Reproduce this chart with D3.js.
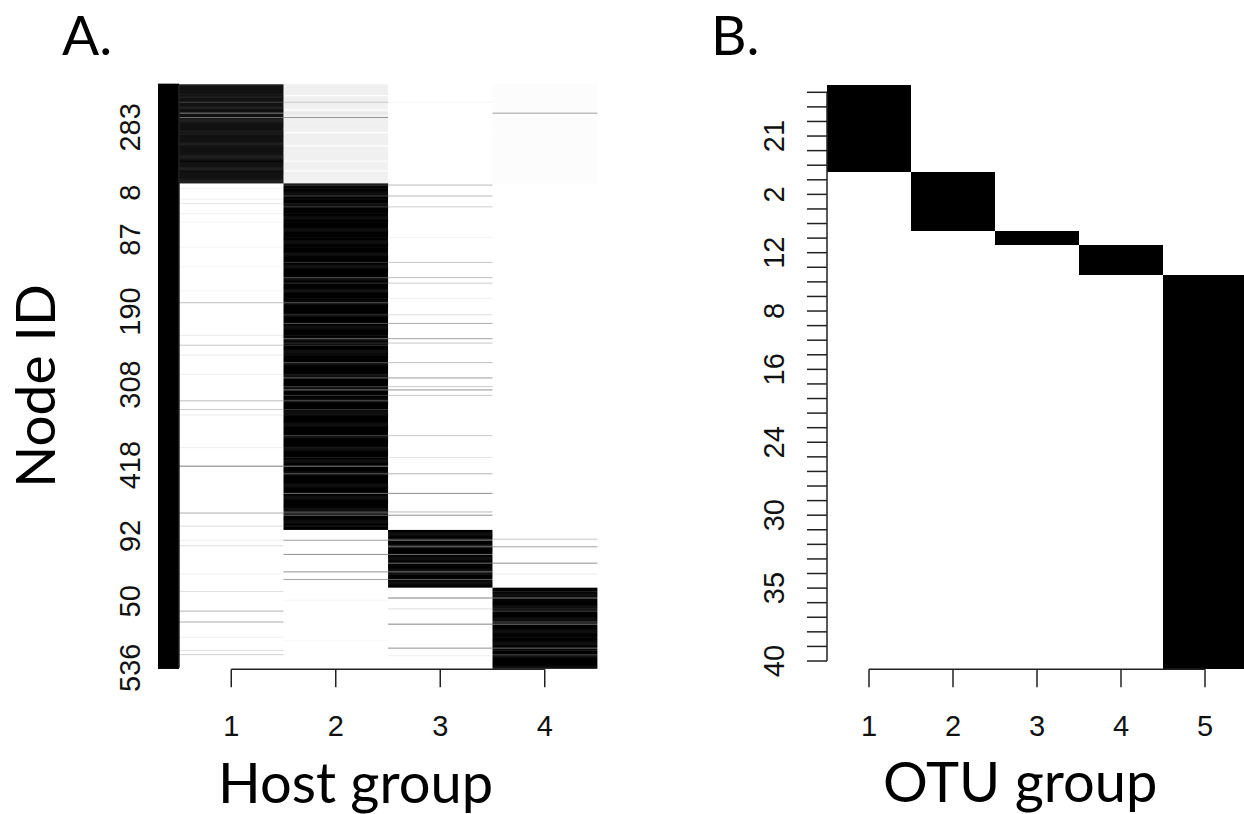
<!DOCTYPE html>
<html><head><meta charset="utf-8">
<script src="https://cdn.jsdelivr.net/npm/d3@7"></script>
<style>body{margin:0;background:#fff}</style>
</head><body>
<svg id="c" width="1244" height="814"></svg>
<script>
// ---------- Panel A data ----------
const hostGroups = [1, 2, 3, 4];
const hostGroupSizes = [91, 318, 53, 74];           // nodes in each host-group block (rows, top to bottom)
const hostBase = [                                   // typical membership of a node in each block
  [0.93, 0.06, 0.00, 0.01],
  [0.00, 1.00, 0.00, 0.00],
  [0.00, 0.00, 1.00, 0.00],
  [0.00, 0.00, 0.00, 1.00]
];
// stripes: [row, host group, membership]
const hostStripes = [
  [10,2,0],[16,2,0.2],[16,3,0.04],[23,2,0],[26,4,0.35],[26,2,0.12],[30,2,0.4],[44,2,0],[56,2,0],[70,2,0],[79,2,0],
  [95,1,0.05],[105,1,0.05],[109,1,0.08],[118,1,0.05],[126,1,0.04],[149,1,0.04],[167,1,0.03],[189,1,0.04],
  [200,1,0.25],[230,1,0.07],[239,1,0.2],[248,1,0.08],[266,1,0.06],[290,1,0.25],[298,1,0.2],[303,1,0.08],
  [333,1,0.06],[350,1,0.47],[393,1,0.3],[405,1,0.12],
  [92,3,0.25],[102,3,0.25],[112,3,0.18],[140,3,0.04],[163,3,0.2],[177,3,0.25],[182,3,0.18],[196,3,0.05],
  [211,3,0.12],[219,3,0.3],[233,3,0.35],[237,3,0.2],[255,3,0.25],[269,3,0.35],[277,3,0.2],[280,3,0.4],
  [285,3,0.2],[322,3,0.2],[342,3,0.1],[357,3,0.28],[375,3,0.4],[392,3,0.25],[395,3,0.4],
  [418,1,0.06],[423,1,0.12],[449,1,0.05],[418,2,0.35],[431,2,0.4],[447,2,0.4],[454,2,0.35],
  [417,4,0.2],[424,4,0.35],[439,4,0.4],[449,4,0.07],
  [465,1,0.12],[483,1,0.28],[493,1,0.3],[507,1,0.06],[519,1,0.12],[523,1,0.18],
  [471,3,0.45],[481,3,0.12],[495,3,0.45],[517,3,0.4],[524,3,0.06],[473,2,0.03],[510,2,0.02]
];
const nodeLabelRows = [39, 99, 142, 208, 275, 349, 414, 474, 535];
const nodeLabels = ["283", "8", "87", "190", "308", "418", "92", "50", "536"];

// ---------- Panel B data ----------
const otuGroups = [1, 2, 3, 4, 5];
const otuGroupSizes = [6, 4, 1, 2, 27];
const otuLabelRows = [3, 7, 11, 15, 19, 24, 29, 34, 39];
const otuLabels = ["21", "2", "12", "8", "16", "24", "30", "35", "40"];

// ---------- build matrices ----------
function buildA() {
  const m = [];
  hostGroupSizes.forEach((n, g) => { for (let i = 0; i < n; i++) m.push({g, v: hostBase[g].slice()}); });
  const touched = new Set();
  hostStripes.forEach(([r, c, v]) => { m[r].v[c - 1] = v; touched.add(r); });
  touched.forEach(r => {
    const row = m[r]; let s = 0;
    row.v.forEach((x, j) => { if (j !== row.g) s += x; });
    row.v[row.g] = Math.max(0, 1 - s);
  });
  const cells = [];
  m.forEach((row, r) => row.v.forEach((v, j) => cells.push({r, c: hostGroups[j], v})));
  return cells;
}
function buildB() {
  const cells = []; let r = 0;
  otuGroupSizes.forEach((n, g) => {
    for (let i = 0; i < n; i++, r++) otuGroups.forEach((c, j) => cells.push({r, c, v: j === g ? 1 : 0}));
  });
  return cells;
}
const cellsA = buildA(), cellsB = buildB();
const nRowsA = d3.sum(hostGroupSizes), nRowsB = d3.sum(otuGroupSizes);

const svg = d3.select("#c");
const grey = d3.scaleLinear().domain([0, 1]).range(["#ffffff", "#000000"]);
const tickFont = "'Liberation Sans', Arial, sans-serif";
const titleFont = "Lato, 'Open Sans', sans-serif";

function panel(cfg) {
  const x = d3.scaleBand().domain(cfg.cols).range(cfg.xr);
  const y = d3.scaleBand().domain(d3.range(cfg.nRows)).range(cfg.yr);
  const g = svg.append("g");
  g.append("g").attr("shape-rendering", cfg.crisp ? "crispEdges" : "auto")
    .selectAll("rect").data(cfg.cells).join("rect")
    .attr("x", d => x(d.c)).attr("y", d => y(d.r))
    .attr("width", x.bandwidth() + 0.3).attr("height", y.bandwidth() + (cfg.crisp ? 0.6 : 0.5))
    .attr("fill", d => grey(d.v));
  // x axis (R style: line from first to last tick)
  const axY = cfg.yr[1] + 1;
  const xa = g.append("g").attr("transform", `translate(0,${axY})`)
    .call(d3.axisBottom(x).tickSize(18).tickPadding(28).tickSizeOuter(0));
  xa.select(".domain").remove();
  const x0 = x(cfg.cols[0]) + x.bandwidth() / 2, x1 = x(cfg.cols[cfg.cols.length - 1]) + x.bandwidth() / 2;
  xa.append("line").attr("x1", x0).attr("x2", x1).attr("stroke", "#222").attr("stroke-width", 1.5);
  xa.selectAll(".tick line").attr("stroke", "#222").attr("stroke-width", 1.5);
  xa.selectAll(".tick text").attr("font-family", tickFont).attr("font-size", 29).attr("fill", "#111");
  // y axis
  const lab = new Map(cfg.labelRows.map((r, i) => [r, cfg.labels[i]]));
  const ya = g.append("g").attr("transform", `translate(${cfg.xr[0]},0)`)
    .call(d3.axisLeft(y).tickValues(d3.range(cfg.nRows)).tickSize(cfg.ytick).tickSizeOuter(0)
      .tickFormat(i => lab.has(i) ? lab.get(i) : ""));
  ya.select(".domain").remove();
  const y0 = y(0) + y.bandwidth() / 2, y1 = y(cfg.nRows - 1) + y.bandwidth() / 2;
  ya.append("line").attr("y1", y0).attr("y2", y1).attr("stroke", "#222").attr("stroke-width", 1.5);
  ya.selectAll(".tick line").attr("stroke", cfg.ytickColor).attr("stroke-width", cfg.ytickW);
  ya.selectAll(".tick text")
    .attr("x", 0).attr("y", 0).attr("dy", 0)
    .attr("transform", `translate(${-cfg.ylabOff},0) rotate(-90)`)
    .attr("text-anchor", "middle")
    .attr("font-family", tickFont).attr("font-size", 29).attr("fill", "#111");
}

panel({cols: hostGroups, nRows: nRowsA, cells: cellsA, xr: [179, 597], yr: [84.3, 668.3], crisp: false,
       labelRows: nodeLabelRows, labels: nodeLabels, ytick: 21, ytickColor: "#000", ytickW: 2.4, ylabOff: 39});
panel({cols: otuGroups, nRows: nRowsB, cells: cellsB, xr: [827, 1247], yr: [85, 668.3], crisp: true,
       labelRows: otuLabelRows, labels: otuLabels, ytick: 20, ytickColor: "#222", ytickW: 1.5, ylabOff: 43});

// titles
svg.append("text").attr("x", 62).attr("y", 54.5).text("A.")
  .attr("font-family", titleFont).attr("font-size", 55).attr("fill", "#000");
svg.append("text").attr("x", 711).attr("y", 54.5).text("B.")
  .attr("font-family", titleFont).attr("font-size", 55).attr("fill", "#000");
svg.append("text").attr("x", 218).attr("y", 803).text("Host group")
  .attr("font-family", titleFont).attr("font-size", 56).attr("fill", "#000");
svg.append("text").attr("x", 883).attr("y", 802).text("OTU group")
  .attr("font-family", titleFont).attr("font-size", 56).attr("fill", "#000");
svg.append("text").attr("transform", "translate(54.5,386) rotate(-90)").attr("text-anchor", "middle").text("Node ID")
  .attr("font-family", titleFont).attr("font-size", 55).attr("fill", "#000");
</script>
</body></html>
